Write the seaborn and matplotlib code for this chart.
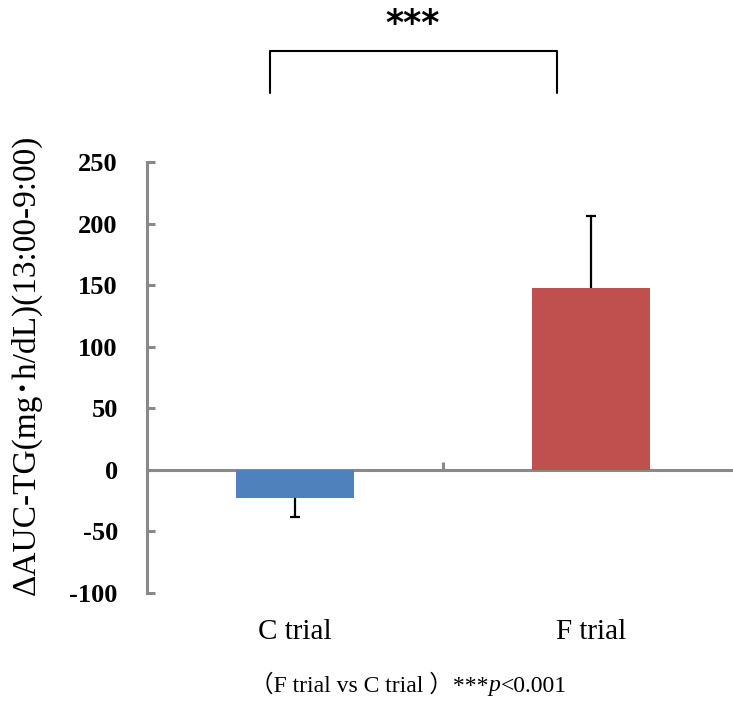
import matplotlib
matplotlib.use('Agg')
import matplotlib.pyplot as plt
import seaborn as sns
import pandas as pd

# data
trials = ['C trial', 'F trial']
auc_mean = [-22.5, 147.5]
auc_err = [16, 59]
bar_colors = ['#4F81BD', '#C0504D']

sns.set_style('white', {'text.color': 'black', 'xtick.color': 'black',
                        'ytick.color': 'black'})
plt.rcParams['font.family'] = ['Liberation Serif', 'Noto Sans CJK JP']
plt.rcParams['axes.unicode_minus'] = False

df = pd.DataFrame({'trial': trials, 'auc': auc_mean})

fig = plt.figure(figsize=(7.33, 7.02), dpi=100)
ax = fig.add_axes([147 / 733, 1 - 593 / 702, 592 / 733, 431 / 702])

sns.barplot(data=df, x='trial', y='auc', hue='trial', palette=bar_colors,
            width=0.4, errorbar=None, legend=False, saturation=1,
            linewidth=0, ax=ax)

# one-sided error bars, cap only on the outer end
for i, (m, e) in enumerate(zip(auc_mean, auc_err)):
    end = m - e if m < 0 else m + e
    ax.plot([i, i], [m, end], color='black', lw=1.6, solid_capstyle='butt')
    ax.plot(i, end, marker='_', ms=7, mew=1.6, color='black')

ax.set_xlim(-0.5, 1.5)
ax.set_ylim(-100, 250)
ax.set_yticks(range(-100, 251, 50))
ax.set_xlabel('')
ax.set_ylabel('')

spine_col = '#898989'
for s in ['top', 'right']:
    ax.spines[s].set_visible(False)
ax.spines['left'].set_color(spine_col)
ax.spines['left'].set_linewidth(2.2)
ax.spines['bottom'].set_color(spine_col)
ax.spines['bottom'].set_linewidth(2.2)
ax.spines['bottom'].set_position(('data', 0))
ax.spines['bottom'].set_zorder(0.5)

ax.tick_params(axis='y', left=True, direction='in', length=6, width=2.2,
               color=spine_col, labelcolor='black', pad=21, labelsize=19)
for t in ax.get_yticklabels():
    t.set_fontweight('bold')
ax.set_xticks([0.5])
ax.set_xticklabels([])
ax.tick_params(axis='x', bottom=True, direction='in', length=6, width=2.2,
               color=spine_col)

# category labels below the plot
sec = ax.secondary_xaxis('bottom')
sec.set_xticks([0, 1])
sec.set_xticklabels(trials, fontsize=21, color='black')
sec.tick_params(length=0, pad=19)
sec.spines['bottom'].set_visible(False)

# significance bracket
x1, x2 = -0.085, 0.885
ax.plot([x1, x1, x2, x2], [306, 340, 340, 306], color='black', lw=1.5,
        clip_on=False)
fig.text(413 / 733, 1 - 24 / 702, '***', ha='center', va='center',
         fontsize=25, fontweight='bold', family='DejaVu Sans', color='black')

fig.text(26 / 733, 1 - 365 / 702, 'ΔAUC-TG(mg･h/dL)(13:00-9:00)',
         rotation=90, ha='center', va='center', fontsize=24, color='black')

# footnote
fig.canvas.draw()
r = fig.canvas.get_renderer()
y_fn = 1 - 686 / 702
t1 = fig.text(250 / 733, y_fn, '（F trial vs C trial ）***', ha='left',
              va='center', fontsize=17, color='black')
bb = t1.get_window_extent(r)
t2 = fig.text(bb.x1 / 733, y_fn, 'p', ha='left', va='center', fontsize=17,
              style='italic', color='black')
bb = t2.get_window_extent(r)
fig.text(bb.x1 / 733, y_fn, '<0.001', ha='left', va='center', fontsize=17,
         color='black')

fig.savefig('out.png', dpi=100)
